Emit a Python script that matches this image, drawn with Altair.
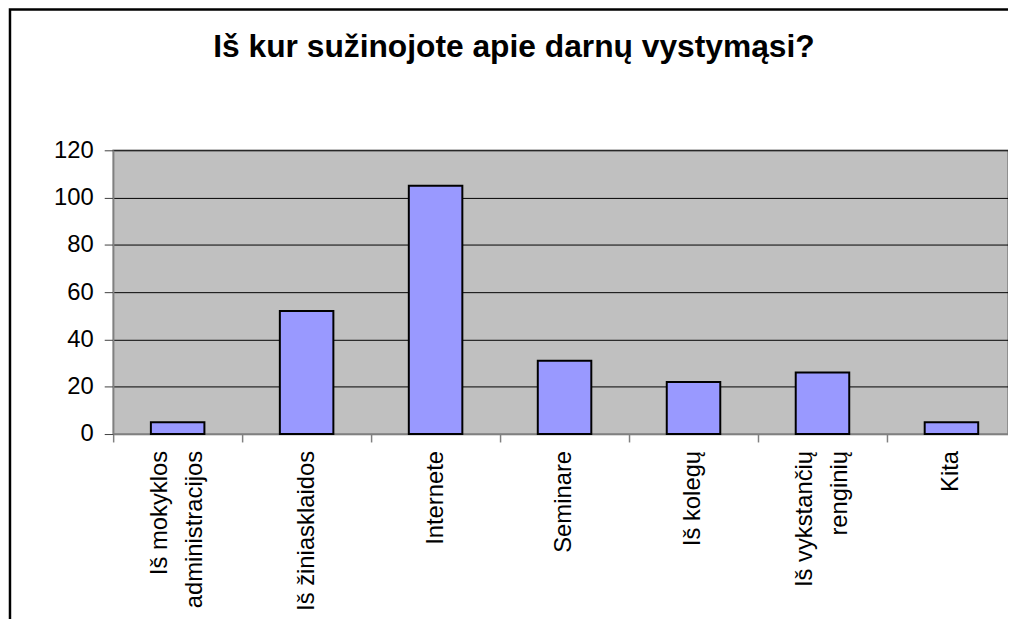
import altair as alt
import pandas as pd

categories = [
    "Iš mokyklos\nadministracijos",
    "Iš žiniasklaidos",
    "Internete",
    "Seminare",
    "Iš kolegų",
    "Iš vykstančių\nrenginių",
    "Kita",
]
values = [5, 52, 105, 31, 22, 26, 5]
y_ticks = [0, 20, 40, 60, 80, 100, 120]
title_text = "Iš kur sužinojote apie darnų vystymąsi?"

df = pd.DataFrame({"category": categories, "value": values})
df["lines"] = df["category"].str.count("\n") + 1
FONT = "Liberation Sans"

x_enc = alt.X(
    "category:N",
    sort=categories,
    scale=alt.Scale(range=[0, 910], paddingInner=0, paddingOuter=0),
    axis=alt.Axis(
        title=None,
        labels=False,
        tickBand="extent",
        tickSize=8,
        tickColor="#808080",
        tickWidth=1.5,
        domainColor="#808080",
        domainWidth=1.5,
        grid=False,
    ),
)

bars = alt.Chart(df).mark_bar(
    fill="#9999FF", stroke="black", strokeWidth=2,
    width=alt.RelativeBandSize(0.415),
).encode(
    x=x_enc,
    y=alt.Y(
        "value:Q",
        scale=alt.Scale(domain=[0, 120], nice=False),
        axis=alt.Axis(
            title=None,
            values=y_ticks,
            labelFont=FONT,
            labelFontSize=24,
            labelColor="black",
            labelPadding=11,
            tickSize=9,
            tickColor="#404040",
            domainColor="#808080",
            domainWidth=1.5,
            gridColor="black",
            gridWidth=1,
            gridOpacity=1,
        ),
    ),
)

def label_layer(n_lines, dy):
    return alt.Chart(df).transform_filter(
        alt.datum.lines == n_lines
    ).mark_text(
        angle=270, align="right", baseline="middle", lineBreak="\n",
        font=FONT, fontSize=24, color="black", lineHeight=35, dy=dy,
    ).encode(
        x=alt.X("category:N", sort=categories),
        y=alt.value(303),
        text="category:N",
    )

labels1 = label_layer(1, 0)
labels2 = label_layer(2, -17.5)

title = alt.Chart(alt.Data(values=[{"t": title_text}])).mark_text(
    font=FONT, fontSize=32, fontWeight="bold", color="black",
    align="center", baseline="alphabetic",
).encode(
    text="t:N",
    x=alt.value(404),
    y=alt.value(-94),
)

frame = alt.Chart(alt.Data(values=[{"f": 1}])).mark_rect(
    fill=None, stroke="black", strokeWidth=2.5
).encode(
    x=alt.value(-104), x2=alt.value(3000),
    y=alt.value(-142), y2=alt.value(3000),
)

chart = alt.layer(bars, labels1, labels2, title, frame).properties(
    width=902,
    height=286,
    padding={"left": 106, "top": 141, "right": 0, "bottom": 184},
    autosize=alt.AutoSizeParams(type="none"),
).configure_view(
    fill="#C0C0C0", stroke="#808080", strokeWidth=1.5
)

chart.save("out.html", embed_options={"renderer": "svg", "actions": False})
